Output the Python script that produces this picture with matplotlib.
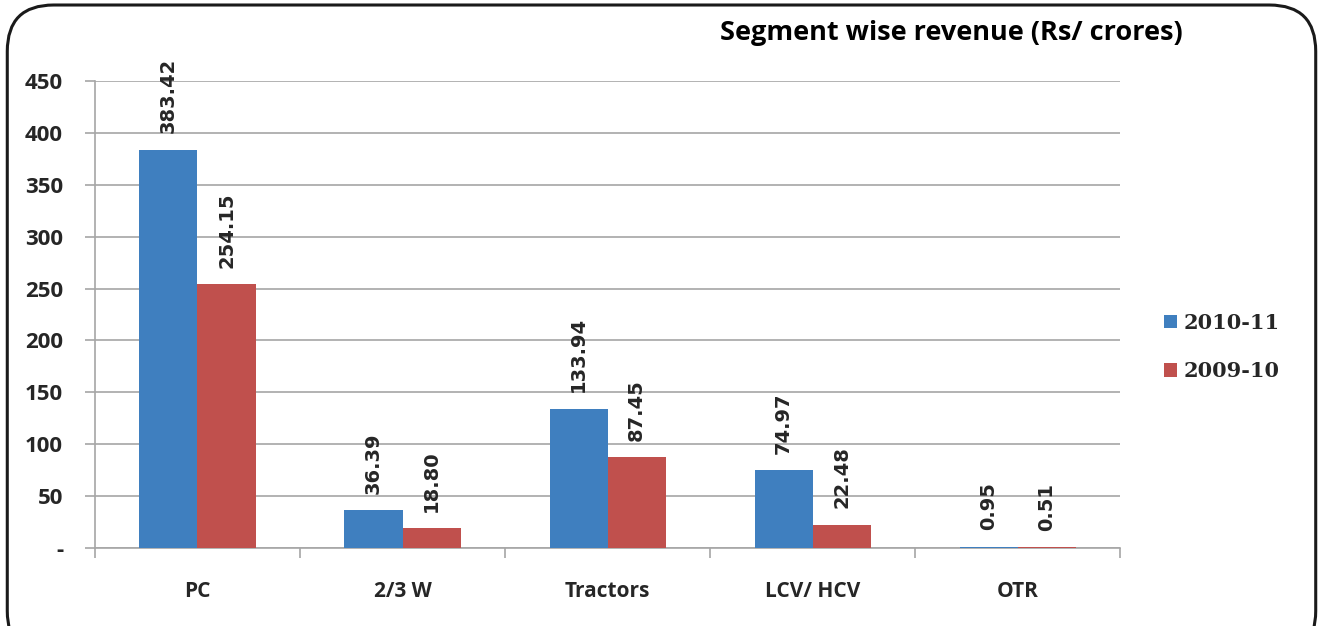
import matplotlib
matplotlib.use("Agg")
import matplotlib.pyplot as plt
from matplotlib.patches import FancyBboxPatch
import numpy as np

categories = ["PC", "2/3 W", "Tractors", "LCV/ HCV", "OTR"]
series_names = ["2010-11", "2009-10"]
rev_2010_11 = [383.42, 36.39, 133.94, 74.97, 0.95]
rev_2009_10 = [254.15, 18.80, 87.45, 22.48, 0.51]
yticks = [0, 50, 100, 150, 200, 250, 300, 350, 400, 450]
ytick_labels = ["-", "50", "100", "150", "200", "250", "300", "350", "400", "450"]

blue = "#3F7FBF"
red = "#C0504D"
grid_c = "#A6A6A6"
text_c = "#262626"

fig = plt.figure(figsize=(13.23, 6.26), dpi=100)
ax = fig.add_axes([0.0718, 0.1246, 0.7748, 0.746])

x = np.arange(len(categories))
w = 0.283
b1 = ax.bar(x - w/2, rev_2010_11, w, color=blue, label=series_names[0], zorder=3)
b2 = ax.bar(x + w/2, rev_2009_10, w, color=red, label=series_names[1], zorder=3)

for bars, vals in ((b1, rev_2010_11), (b2, rev_2009_10)):
    for r, v in zip(bars, vals):
        ax.annotate(f"{v:.2f}", (r.get_x() + r.get_width()/2, v),
                    xytext=(0, 12), textcoords="offset points",
                    rotation=90, ha="center", va="bottom",
                    fontsize=14, fontweight="bold", color=text_c,
                    family="DejaVu Sans")

ax.set_xlim(-0.5, len(categories) - 0.5)
ax.set_ylim(0, 450)
ax.set_yticks(yticks)
ax.set_yticklabels(ytick_labels, fontsize=16, fontweight="bold", color=text_c, family="Open Sans")
ax.set_xticks(x)
ax.set_xticklabels(categories, fontsize=15, fontweight="bold", color=text_c, family="Open Sans")
ax.set_xticks(np.arange(-0.5, len(categories), 1.0), minor=True)
ax.tick_params(axis="x", which="major", length=0, pad=24)
ax.tick_params(axis="x", which="minor", length=7, color=grid_c, width=1.2)
ax.tick_params(axis="y", which="major", length=7, color=grid_c, width=1.2, pad=16)
ax.grid(axis="y", color=grid_c, linewidth=1.2, zorder=0)
for s in ("top", "right"):
    ax.spines[s].set_visible(False)
for s in ("left", "bottom"):
    ax.spines[s].set_color(grid_c)
    ax.spines[s].set_linewidth(1.2)

leg = ax.legend(loc="center left", bbox_to_anchor=(1.025, 0.43), frameon=False,
                handlelength=0.6, handleheight=0.6, handletextpad=0.3,
                labelspacing=1.35,
                prop={"family": "DejaVu Serif", "weight": "bold", "size": 15})
for t in leg.get_texts():
    t.set_color(text_c)

fig.text(0.894, 0.948, "Segment wise revenue (Rs/ crores)", ha="right", va="center",
         fontsize=19.5, fontweight="bold", family="Open Sans", color="black")

box = FancyBboxPatch((0.0055, -0.05), 0.989, 1.042,
                     boxstyle="round,pad=0,rounding_size=0.035",
                     transform=fig.transFigure, fill=False,
                     edgecolor="#1a1a1a", linewidth=2.2, mutation_aspect=1323/626)
fig.patches.append(box)

fig.savefig("out.png", dpi=100)
